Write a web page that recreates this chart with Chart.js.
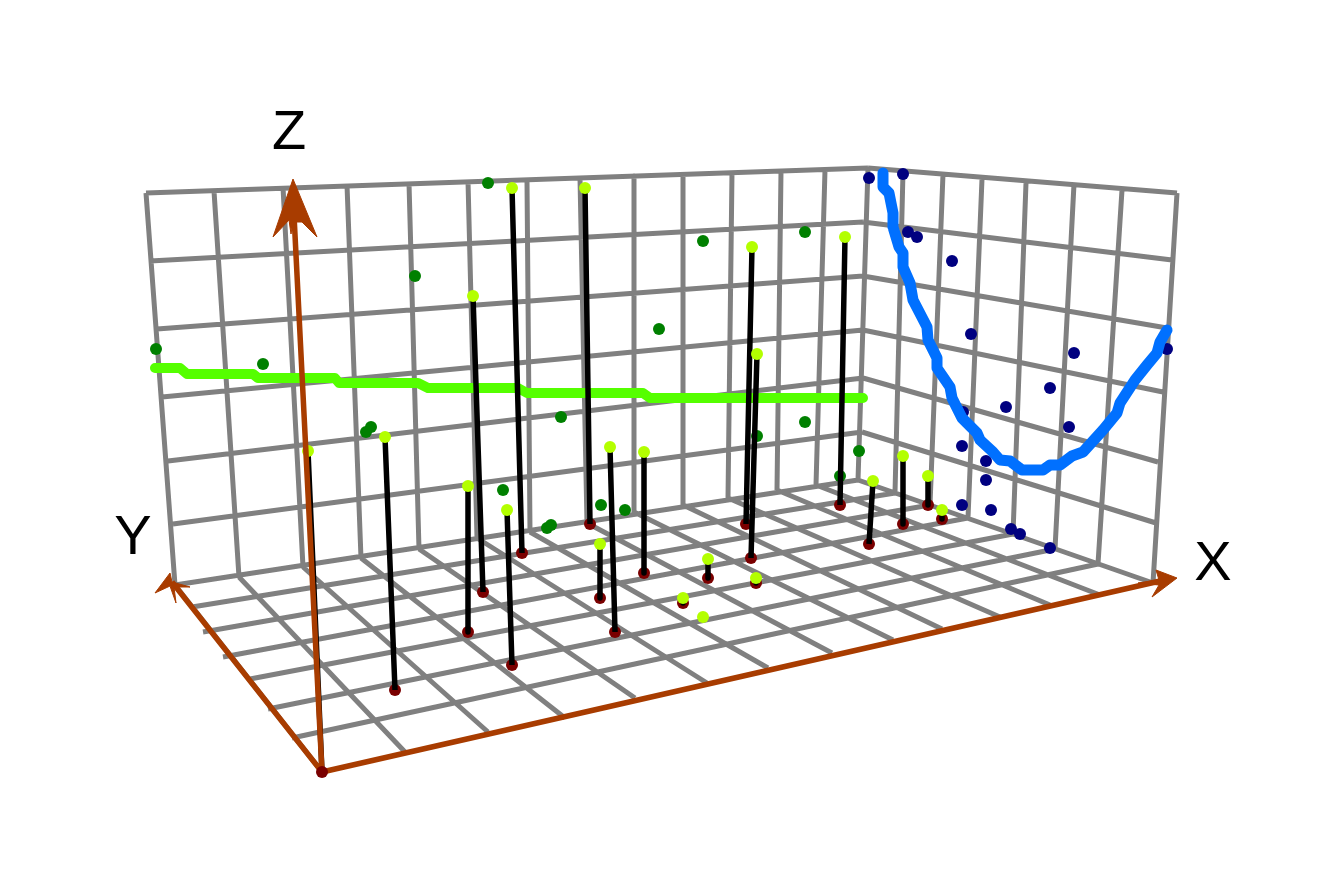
<!DOCTYPE html>
<html>
<head>
<meta charset="utf-8">
<title>3D scatter</title>
<script src="https://cdn.jsdelivr.net/npm/chart.js@4/dist/chart.umd.min.js"></script>
<style>
  html, body { margin: 0; padding: 0; background: #fff; overflow: hidden; }
  canvas { display: block; }
</style>
</head>
<body>
<canvas id="plot" width="1323" height="883"></canvas>
<script>

// back wall
var backTop = [[146,193],[214,191],[283,187],[347,185],[409,183],[468,181],[527,181],[580,178],[634,176],[683,175],[732,172],[781,171],[825,170],[868,168]];
var backBottom = [[175,585],[239,577],[303,567],[361,558],[419,549],[477,538],[530,532],[587,523],[634,512],[683,505],[728,498],[777,490],[816,485],[858,480]];
var backLeft = [[150,261],[157,329],[162,397],[168,461],[173,524]];
var backRight = [[863,222],[863,276],[863,330],[863,378],[862,432]];

// side wall
var sideTop = [[868,168],[903,172],[943,174],[982,179],[1026,183],[1074,184],[1122,190],[1177,193]];
var sideBottom = [[858,480],[895,493],[930,505],[968,518],[1013,534],[1055,549],[1098,564],[1153,583]];
var sideRight = [[1172,260],[1167,328],[1163,392],[1158,462],[1156,523]];

// floor
var floorFront = [[322,772],[405,752],[488,732],[565,718],[635,698],[707,683],[768,668],[832,653],[893,640],[942,629],[1000,617],[1050,605],[1100,595],[1153,583]];
var floorLeft = [[175,585],[192,607],[203,632],[223,657],[250,679],[268,709],[292,738],[322,772]];

// axes
var axisOrigin = [322,772];
var axisXEnd = [1160,581];
var axisYEnd = [172,582];
var axisZEnd = [294,215];
var arrowX = [[1177,578],[1156,570],[1159,580],[1138,583],[1159,585],[1152,597]];
var arrowY = [[170,573],[155,593],[170,586],[176,603],[174,587],[190,587],[172,582]];
var arrowZ = [[293,179],[273,237],[289,220],[291,234],[293,222],[302,222],[317,237]];

// series
var stemTops = [[385,437],[308,451],[468,486],[473,296],[507,510],[512,188],[585,188],[600,544],[610,447],[644,452],[708,559],[683,598],[756,578],[703,617],[752,247],[757,354],[845,237],[873,481],[903,456],[928,476],[942,510]];
var stemBases = [[395,690],[322,772],[468,632],[483,592],[512,665],[522,553],[590,524],[600,598],[615,632],[644,573],[708,578],[683,603],[756,583],[703,617],[746,524],[751,558],[840,505],[869,544],[903,524],[928,505],[942,519]];
var greenPoints = [[488,183],[703,241],[805,232],[415,276],[659,329],[156,349],[263,364],[561,417],[371,427],[366,432],[805,422],[757,436],[859,451],[840,476],[503,490],[601,505],[625,510],[551,525],[547,528]];
var navyPoints = [[869,178],[903,174],[908,232],[917,237],[952,261],[971,334],[1074,353],[1167,349],[1050,388],[1006,407],[1069,427],[963,412],[962,446],[986,461],[986,480],[962,505],[991,510],[1011,529],[1020,534],[1050,548]];
var greenCurve = [[155,368],[180,368],[187,374],[253,374],[258,378],[335,378],[339,383],[418,383],[428,388],[518,388],[527,393],[643,393],[650,398],[863,398]];
var blueCurve = [[883,173],[883,187],[889,193],[893,213],[893,227],[899,247],[903,253],[903,267],[910,283],[913,300],[927,327],[928,340],[937,358],[937,368],[950,387],[952,398],[962,418],[977,433],[980,440],[993,452],[1000,460],[1010,461],[1022,470],[1043,470],[1050,465],[1060,465],[1072,456],[1083,452],[1103,430],[1117,413],[1120,403],[1135,380],[1147,365],[1157,353],[1160,342],[1167,330]];

var axisLabels = ['X', 'Y', 'Z'];
var axisLabelSpots = [[1213,565],[133,539],[289,134]];

var GRID = '#808080';
var AXIS = '#a83c00';

function toPoints(list) {
    return list.map(function(p) { return { x: p[0], y: p[1] }; });
}

// pairs of points with a gap between them, so one dataset draws many lines
function segments(from, to) {
    var out = [];
    from.forEach(function(p, i) {
        out.push({ x: p[0], y: p[1] }, { x: to[i][0], y: to[i][1] }, { x: NaN, y: NaN });
    });
    return out;
}

function lines(data, color, width, cap) {
    return {
        data: data, showLine: true, pointRadius: 0, borderColor: color, borderWidth: width,
        borderCapStyle: cap || 'butt', borderJoinStyle: 'round', tension: 0, spanGaps: false
    };
}

function dots(list, color) {
    return {
        data: toPoints(list), showLine: false, pointRadius: 6, pointBorderWidth: 0,
        pointBackgroundColor: color, pointBorderColor: color
    };
}

function arrow(list) {
    var pts = toPoints(list.concat([list[0]]));
    return {
        data: pts, showLine: true, pointRadius: 0, borderColor: AXIS, borderWidth: 1,
        backgroundColor: AXIS, fill: 'shape', tension: 0
    };
}

var gridData = []
    .concat(segments(backTop, backBottom))
    .concat(segments([backTop[0]], [backTop[13]]))
    .concat(segments(backLeft, backRight))
    .concat(segments([backBottom[0]], [backBottom[13]]))
    .concat(segments(sideTop, sideBottom))
    .concat(segments([sideTop[0]], [sideTop[7]]))
    .concat(segments(backRight, sideRight))
    .concat(segments(backBottom, floorFront))
    .concat(segments(floorLeft.slice(1, 7), sideBottom.slice(1, 7)))
    .concat(segments([sideBottom[0]], [sideBottom[7]]));

var axisData = segments([axisOrigin, axisOrigin, axisOrigin], [axisXEnd, axisYEnd, axisZEnd]);

var labelPlugin = {
    id: 'axisLetters',
    afterDatasetsDraw: function(chart) {
        var ctx = chart.ctx;
        ctx.save();
        ctx.font = '56px "Liberation Sans", Arial, sans-serif';
        ctx.fillStyle = '#000';
        ctx.textAlign = 'center';
        ctx.textBaseline = 'middle';
        axisLabels.forEach(function(t, i) {
            ctx.fillText(t, chart.scales.x.getPixelForValue(axisLabelSpots[i][0]), chart.scales.y.getPixelForValue(axisLabelSpots[i][1]));
        });
        ctx.restore();
    }
};

// first dataset ends up on top
new Chart(document.getElementById('plot').getContext('2d'), {
    type: 'scatter',
    data: {
        datasets: [
            dots([axisOrigin], '#7a0000'),
            arrow(arrowX),
            arrow(arrowY),
            arrow(arrowZ),
            lines(axisData, AXIS, 5.5),
            dots(stemTops, '#b3ff00'),
            lines(segments(stemTops, stemBases), '#000000', 5.5),
            dots(stemBases.filter(function(p) { return p !== stemBases[1] && p !== stemBases[13]; }), '#7a0000'),
            lines(toPoints(blueCurve), '#0070ff', 11, 'round'),
            lines(toPoints(greenCurve), '#55ff00', 10, 'round'),
            dots(greenPoints, '#008000'),
            dots(navyPoints, '#000080'),
            lines(gridData, GRID, 5)
        ]
    },
    options: {
        responsive: false,
        animation: false,
        events: [],
        layout: { padding: 0, autoPadding: false },
        plugins: { legend: { display: false }, tooltip: { enabled: false } },
        scales: {
            x: { type: 'linear', min: 0, max: 1323, display: false },
            y: { type: 'linear', min: 0, max: 883, reverse: true, display: false }
        }
    },
    plugins: [labelPlugin]
});
</script>
</body>
</html>
